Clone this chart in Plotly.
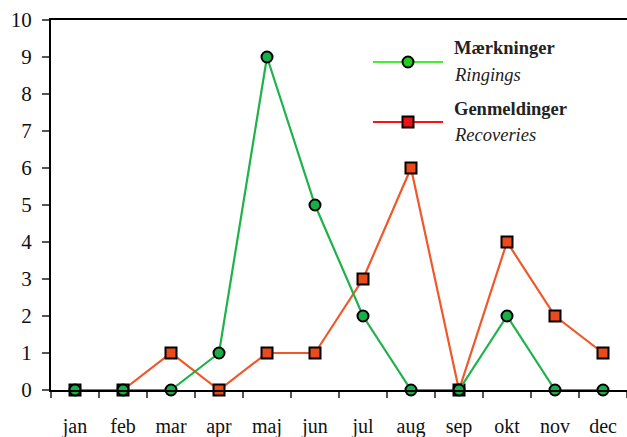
import plotly.graph_objects as go

months = ["jan", "feb", "mar", "apr", "maj", "jun", "jul", "aug", "sep", "okt", "nov", "dec"]
ringings = [0, 0, 0, 1, 9, 5, 2, 0, 0, 2, 0, 0]
recoveries = [0, 0, 1, 0, 1, 1, 3, 6, 0, 4, 2, 1]
y_ticks = list(range(0, 11))

FONT = "Liberation Serif"

fig = go.Figure()
fig.add_trace(go.Scatter(
    x=months, y=recoveries, mode="lines+markers", cliponaxis=False,
    line=dict(color="#f0582a", width=2.2),
    marker=dict(symbol="square", size=11, color="#ea4a1c", line=dict(color="black", width=2)),
    showlegend=False))
fig.add_trace(go.Scatter(
    x=months, y=ringings, mode="lines+markers", cliponaxis=False,
    line=dict(color="#1fb24a", width=2.2),
    marker=dict(symbol="circle", size=11, color="#1aae48", line=dict(color="black", width=2)),
    showlegend=False))

# manual legend
def px_x(px):
    return (px - 51) / 576
def px_y(py):
    return (390 - py) / 370

shapes = []
annotations = []
legend_items = [
    ("#44ee33", "#22cc22", "circle", 62, "Mærkninger", "Ringings", 48, 75),
    ("#ff1111", "#ee1111", "square", 122, "Genmeldinger", "Recoveries", 109, 135),
]
for lc, fc, sym, ly, t1, t2, y1, y2 in legend_items:
    shapes.append(dict(type="line", xref="paper", yref="paper",
                       x0=px_x(373), x1=px_x(443), y0=px_y(ly), y1=px_y(ly),
                       line=dict(color=lc, width=2)))
    shapes.append(dict(type="circle" if sym == "circle" else "rect",
                       xref="paper", yref="paper", xsizemode="pixel", ysizemode="pixel",
                       xanchor=px_x(408), yanchor=px_y(ly),
                       x0=-5.5, x1=5.5, y0=-5.5, y1=5.5,
                       fillcolor=fc, line=dict(color="black", width=2)))
    annotations.append(dict(xref="paper", yref="paper", x=px_x(452), y=px_y(y1),
                            xanchor="left", yanchor="middle", showarrow=False,
                            text="<b>" + t1 + "</b>",
                            font=dict(family=FONT, size=18.5, color="#222")))
    annotations.append(dict(xref="paper", yref="paper", x=px_x(452), y=px_y(y2),
                            xanchor="left", yanchor="middle", showarrow=False,
                            text="<i>" + t2 + "</i>",
                            font=dict(family=FONT, size=18.5, color="#222")))

fig.update_layout(
    width=627, height=437,
    margin=dict(l=51, r=0, t=20, b=47),
    paper_bgcolor="white", plot_bgcolor="white",
    shapes=shapes, annotations=annotations,
    xaxis=dict(
        type="category", range=[-0.5, 11.5], tickson="boundaries",
        automargin=False,
        showline=True, linecolor="black", linewidth=2, mirror=True,
        ticks="outside", ticklen=6, tickcolor="#555", tickwidth=1.5,
        showgrid=False, zeroline=False,
        tickfont=dict(family=FONT, size=20, color="#111"),
        ticklabelstandoff=17,
    ),
    yaxis=dict(
        range=[0, 10], tickvals=y_ticks, ticktext=[str(v) for v in y_ticks],
        automargin=False,
        showline=True, linecolor="black", linewidth=2,
        ticks="outside", ticklen=7, tickcolor="#555", tickwidth=1.5,
        showgrid=False, zeroline=False,
        tickfont=dict(family=FONT, size=21, color="#111"),
        ticklabelstandoff=6,
    ),
)

fig.write_html("out.html", config={"displayModeBar": False},
               post_script="document.body.style.margin='0';")
